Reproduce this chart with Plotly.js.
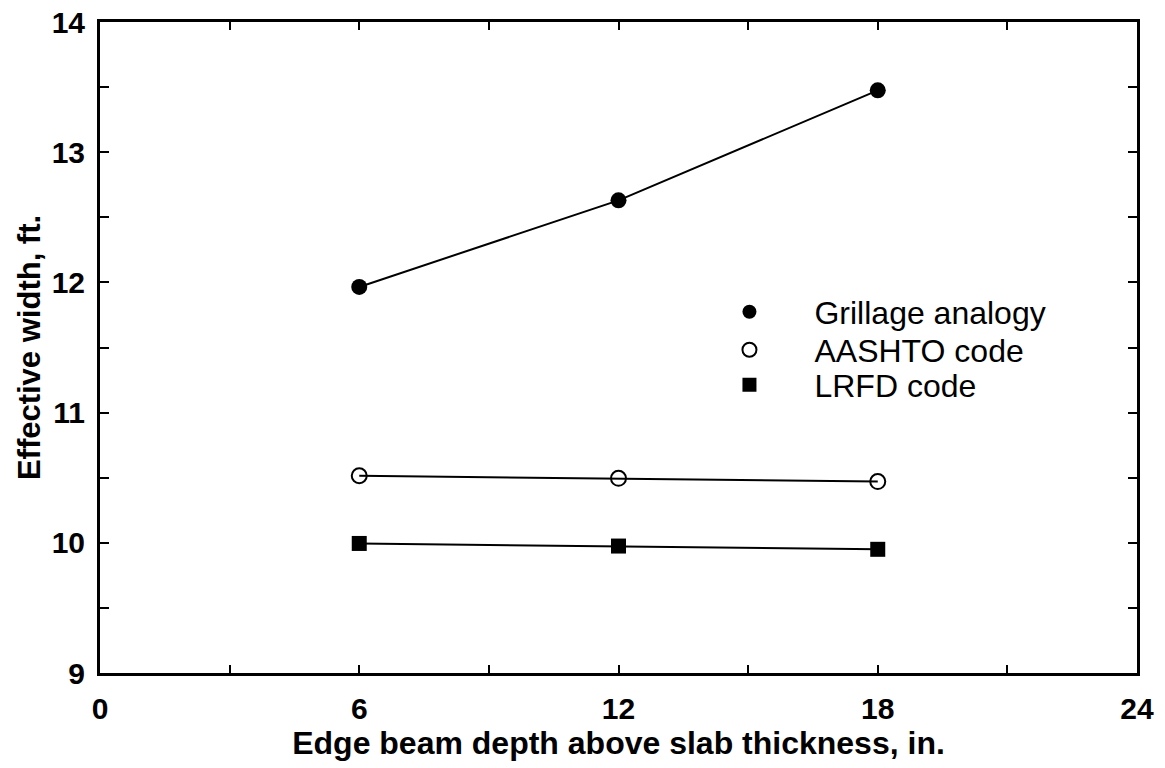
<!DOCTYPE html>
<html>
<head>
<meta charset="utf-8">
<script src="https://cdn.plot.ly/plotly-3.0.1.min.js"></script>
<style>
  html, body { margin: 0; padding: 0; background: #ffffff; }
  #chart { width: 1165px; height: 768px; }
</style>
</head>
<body>
<div id="chart"></div>
<script>
// Data
const depths = [6, 12, 18];                 // Edge beam depth above slab thickness, in.
const grillage = [11.965, 12.63, 13.475];   // Grillage analogy, ft
const aashto = [10.515, 10.495, 10.47];     // AASHTO code, ft
const lrfd = [9.995, 9.975, 9.95];          // LRFD code, ft
const seriesNames = ['Grillage analogy', 'AASHTO code', 'LRFD code'];

const xTickVals = [0, 3, 6, 9, 12, 15, 18, 21, 24];
const xTickText = ['0', '', '6', '', '12', '', '18', '', '24'];
const yTickVals = [9, 9.5, 10, 10.5, 11, 11.5, 12, 12.5, 13, 13.5, 14];
const yTickText = ['9', '', '10', '', '11', '', '12', '', '13', '', '14'];

const FONT = 'Liberation Sans, Arial, Helvetica, sans-serif';

const lineStyle = { color: '#000000', width: 2 };

const traces = [
  { x: depths, y: grillage, mode: 'lines+markers', showlegend: false, name: seriesNames[0],
    line: lineStyle, marker: { symbol: 'circle', size: 16, color: '#000000' } },
  { x: depths, y: aashto, mode: 'lines+markers', showlegend: false, name: seriesNames[1],
    line: lineStyle, marker: { symbol: 'circle-open', size: 15, color: '#000000', line: { width: 2, color: '#000000' } } },
  { x: depths, y: lrfd, mode: 'lines+markers', showlegend: false, name: seriesNames[2],
    line: lineStyle, marker: { symbol: 'square', size: 15, color: '#000000' } },
  // legend-only entries (markers only, as in the reference key)
  { x: [null], y: [null], mode: 'markers', name: seriesNames[0], showlegend: true, legend: 'legend',
    marker: { symbol: 'circle', size: 14, color: '#000000' } },
  { x: [null], y: [null], mode: 'markers', name: seriesNames[1], showlegend: true, legend: 'legend2',
    marker: { symbol: 'circle-open', size: 14, color: '#000000', line: { width: 2, color: '#000000' } } },
  { x: [null], y: [null], mode: 'markers', name: seriesNames[2], showlegend: true, legend: 'legend3',
    marker: { symbol: 'square', size: 14, color: '#000000' } }
];

function legendAt(yPaper) {
  return {
    x: 0.5636, y: yPaper, xanchor: 'left', yanchor: 'middle',
    bgcolor: 'rgba(0,0,0,0)', borderwidth: 0,
    font: { family: FONT, size: 32, color: '#000000' },
    itemwidth: 120
  };
}

const layout = {
  width: 1165,
  height: 768,
  paper_bgcolor: '#ffffff',
  plot_bgcolor: '#ffffff',
  margin: { l: 100, r: 28, t: 22, b: 95 },
  font: { family: FONT, color: '#000000' },
  showlegend: true,
  legend: legendAt(0.5545),
  legend2: legendAt(0.4962),
  legend3: legendAt(0.4424),
  xaxis: {
    range: [0, 24], autorange: false,
    tickmode: 'array', tickvals: xTickVals, ticktext: xTickText,
    ticks: 'inside', ticklen: 8, tickwidth: 2, tickcolor: '#000000',
    showline: true, linewidth: 3, linecolor: '#000000', mirror: 'ticks',
    showgrid: false, zeroline: false,
    tickfont: { family: FONT, size: 30, color: '#000000', weight: 'bold' },
    ticklabelstandoff: 7,
    title: { text: 'Edge beam depth above slab thickness, in.', standoff: 0,
             font: { family: FONT, size: 32, color: '#000000', weight: 'bold' } }
  },
  yaxis: {
    range: [9, 14], autorange: false,
    tickmode: 'array', tickvals: yTickVals, ticktext: yTickText,
    ticks: 'inside', ticklen: 9, tickwidth: 2, tickcolor: '#000000',
    showline: true, linewidth: 3, linecolor: '#000000', mirror: 'ticks',
    showgrid: false, zeroline: false,
    tickfont: { family: FONT, size: 30, color: '#000000', weight: 'bold' },
    ticklabelstandoff: 6,
    title: { text: 'Effective width, ft.', standoff: 2,
             font: { family: FONT, size: 31, color: '#000000', weight: 'bold' } }
  }
};

Plotly.newPlot('chart', traces, layout, { displayModeBar: false, staticPlot: true });
</script>
</body>
</html>
